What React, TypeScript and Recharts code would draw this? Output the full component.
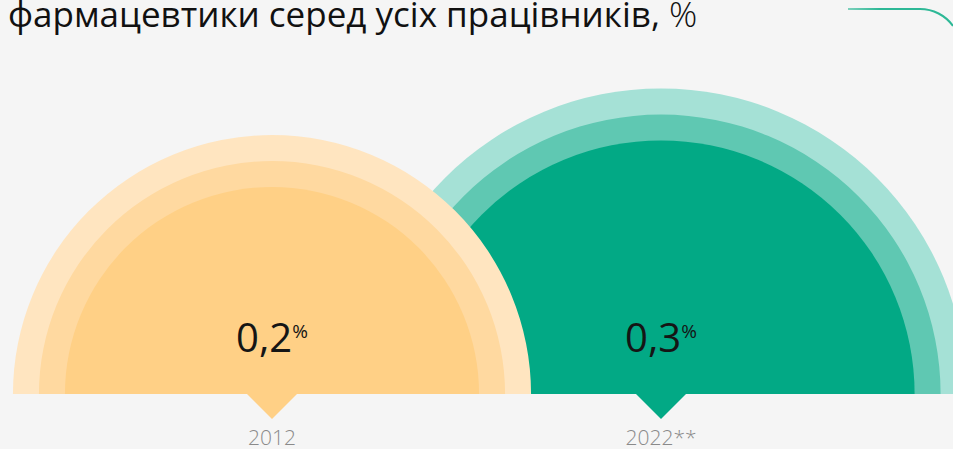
import React from 'react';
import { PieChart, Pie, Cell, Customized } from 'recharts';

// values
const years = ['2012', '2022**'];
const shares = [0.2, 0.3];
const valueLabels = ['0,2', '0,3'];

const W = 953;
const H = 449;
const BASE_Y = 394;
const CENTERS = [272, 661];
const RING_STEP = 26;
const RADIUS_K = 463; // core radius = K * sqrt(share), area follows the share

const ringColors = [
  ['#ffd086', '#ffd9a0', '#ffe5c0'],
  ['#02a985', '#5fc8b2', '#a5e1d6'],
];

const FONT = '"Open Sans", "Noto Sans", sans-serif';

const Decorations = () => (
  <g>
    <text x={8} y={27} fontFamily={FONT} fontSize={35} fill="#111">
      фармацевтики серед усіх працівників,{' '}
      <tspan fontWeight={300}>%</tspan>
    </text>
    <defs>
      <linearGradient id="cornerLine" x1="0" y1="0" x2="1" y2="0">
        <stop offset="0%" stopColor="#2db896" stopOpacity={0.6} />
        <stop offset="30%" stopColor="#2db896" stopOpacity={1} />
      </linearGradient>
    </defs>
    <path
      d={`M 848 9 L 920 9 A 40.5 40.5 0 0 1 953 26`}
      fill="none"
      stroke="url(#cornerLine)"
      strokeWidth={2}
    />
    {years.map((year, i) => {
      const cx = CENTERS[i];
      return (
        <g key={year}>
          <polygon
            points={`${cx - 25},${BASE_Y} ${cx + 25},${BASE_Y} ${cx},${BASE_Y + 25}`}
            fill={ringColors[i][0]}
          />
          <text x={cx} y={445} textAnchor="middle" fontFamily={FONT} fontSize={21} fontWeight={300} fill="#8a8a8a">
            {year}
          </text>
        </g>
      );
    })}
  </g>
);

const valueLabel = (i: number) => () => (
  <text x={CENTERS[i]} y={BASE_Y - 42} textAnchor="middle" fontFamily={FONT} fontSize={40} fill="#151515">
    {valueLabels[i]}
    <tspan fontSize={19} dy={-14}>%</tspan>
  </text>
);

export default function App() {
  // green (bigger) first so the orange one sits on top of it
  const order = [1, 0];
  return (
    <div style={{ position: 'absolute', left: 0, top: 0, width: W, height: H, background: '#f5f5f5' }}>
      <PieChart width={W} height={H} margin={{ top: 0, right: 0, bottom: 0, left: 0 }}>
        <Customized component={Decorations} />
        {order.flatMap((i) => {
          const core = RADIUS_K * Math.sqrt(shares[i]);
          return [2, 1, 0].map((ring) => (
            <Pie
              key={`${i}-${ring}`}
              data={[{ name: years[i], value: shares[i] }]}
              dataKey="value"
              cx={CENTERS[i]}
              cy={BASE_Y}
              startAngle={180}
              endAngle={0}
              innerRadius={0}
              outerRadius={core + ring * RING_STEP}
              stroke="none"
              label={ring === 0 ? valueLabel(i) : false}
              labelLine={false}
              isAnimationActive={false}
            >
              <Cell fill={ringColors[i][ring]} />
            </Pie>
          ));
        })}
      </PieChart>
    </div>
  );
}
